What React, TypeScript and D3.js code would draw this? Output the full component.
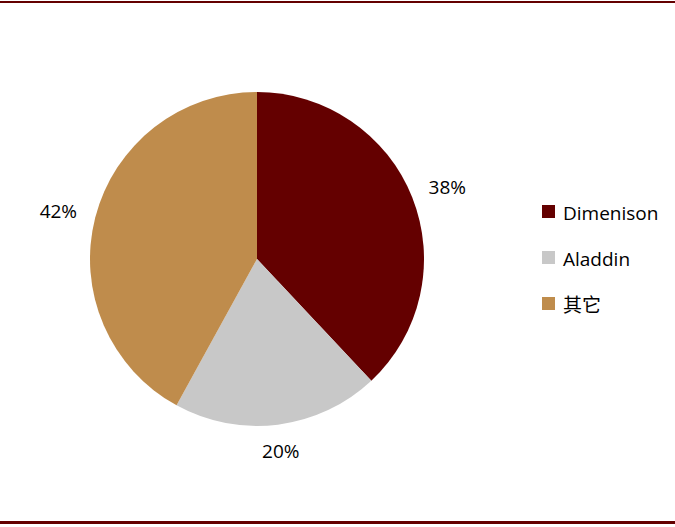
import React, { useEffect, useRef } from 'react';
import * as d3 from 'd3';

const categories = ['Dimenison', 'Aladdin', '其它'];
const shares = [38, 20, 42];
const colors = ['#640000', '#c8c8c8', '#bf8c4c'];

const W = 675;
const H = 527;

export default function App() {
  const ref = useRef<SVGSVGElement>(null);

  useEffect(() => {
    const svg = d3.select(ref.current);
    svg.selectAll('*').remove();

    const font = '"Open Sans", "Noto Sans", "Noto Sans CJK SC", sans-serif';

    // top and bottom rules
    svg.append('rect').attr('x', 0).attr('y', 1).attr('width', W).attr('height', 2).attr('fill', '#640000');
    svg.append('rect').attr('x', 0).attr('y', 521).attr('width', W).attr('height', 3).attr('fill', '#640000');

    const cx = 257;
    const cy = 259;
    const r = 167;

    const data = categories.map((c, i) => ({ name: c, value: shares[i], color: colors[i] }));
    const pie = d3.pie<any>().value(d => d.value).sort(null);
    const arcs = pie(data);
    const arc = d3.arc<any>().innerRadius(0).outerRadius(r);

    // label sits just outside the slice, offset by its half box size
    const labelPos = (d: any) => {
      const a = (d.startAngle + d.endAngle) / 2;
      const off = r + 17 + Math.abs(Math.sin(a)) * 21 + Math.abs(Math.cos(a)) * 3;
      return [Math.sin(a) * off, -Math.cos(a) * off];
    };

    const g = svg.append('g').attr('transform', `translate(${cx},${cy})`);
    g.selectAll('path')
      .data(arcs)
      .enter()
      .append('path')
      .attr('d', arc)
      .attr('fill', d => d.data.color);

    g.selectAll('text.lbl')
      .data(arcs)
      .enter()
      .append('text')
      .attr('class', 'lbl')
      .attr('transform', d => `translate(${labelPos(d)})`)
      .attr('text-anchor', 'middle')
      .attr('dy', '0.55em')
      .style('font-family', font)
      .style('font-size', '19px')
      .attr('fill', '#000')
      .text(d => `${d.data.value}%`);

    const legend = svg.append('g').attr('transform', 'translate(542,212)');
    const items = legend.selectAll('g')
      .data(data)
      .enter()
      .append('g')
      .attr('transform', (d, i) => `translate(0,${i * 46})`);
    items.append('rect')
      .attr('x', 0)
      .attr('y', -7)
      .attr('width', 13)
      .attr('height', 13)
      .attr('fill', d => d.color);
    items.append('text')
      .attr('x', 21)
      .attr('y', 0)
      .attr('dy', '0.4em')
      .style('font-family', font)
      .style('font-size', '19px')
      .attr('fill', '#000')
      .text(d => d.name);
  }, []);

  return (
    <svg ref={ref} width={W} height={H} style={{ position: 'absolute', left: 0, top: 0 }} />
  );
}
